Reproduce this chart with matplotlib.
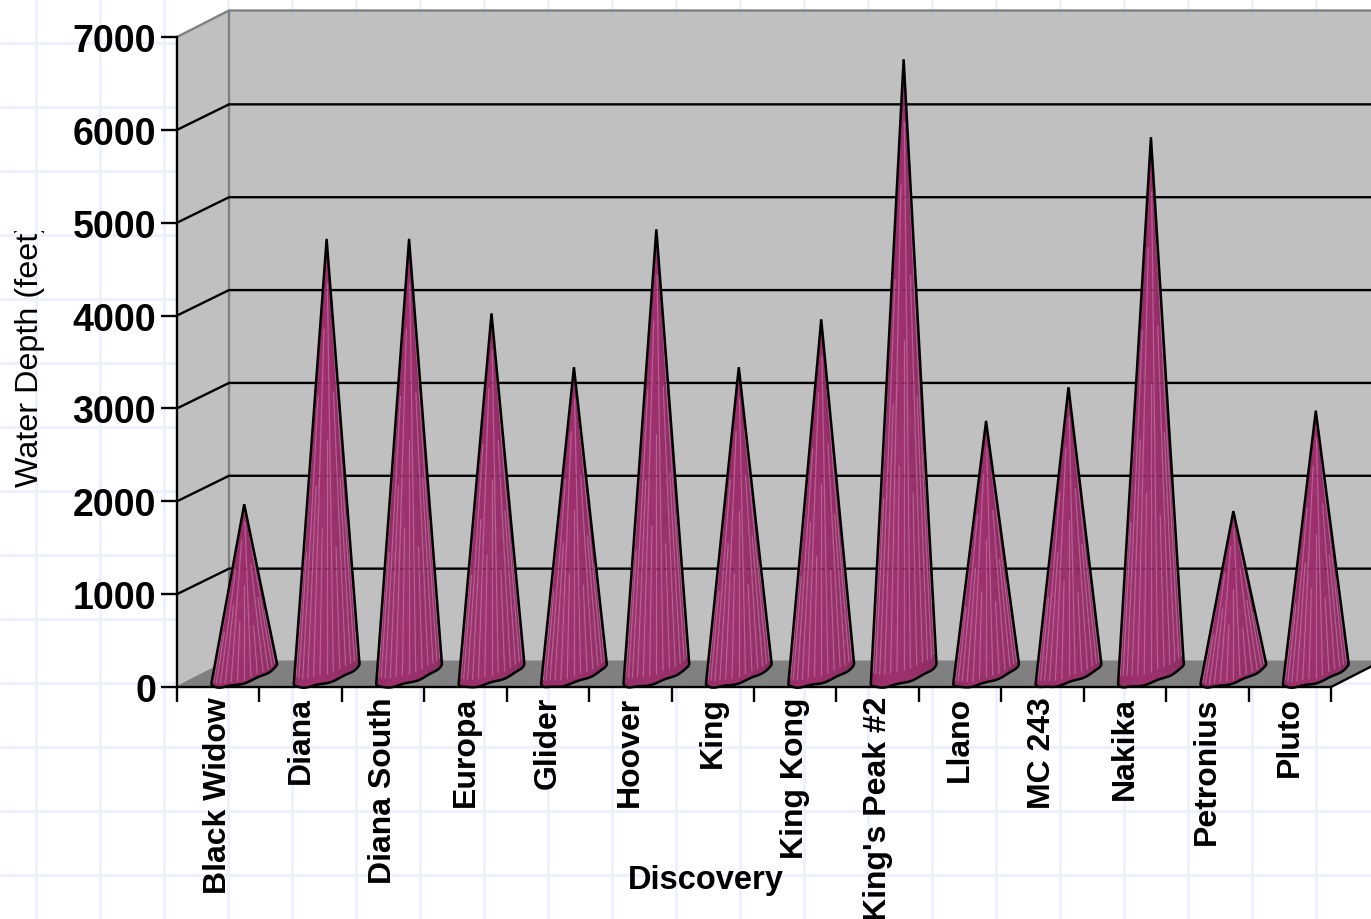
import numpy as np
import matplotlib
matplotlib.use('Agg')
import matplotlib.pyplot as plt
from matplotlib.collections import PolyCollection, LineCollection
from matplotlib.patches import Polygon
from matplotlib.transforms import Bbox

plt.rcParams['font.family'] = ['Liberation Sans', 'DejaVu Sans']

discoveries = ['Black Widow', 'Diana', 'Diana South', 'Europa', 'Glider', 'Hoover', 'King',
               'King Kong', "King's Peak #2", 'Llano', 'MC 243', 'Nakika', 'Petronius', 'Pluto']
water_depth = [1825, 4680, 4680, 3880, 3300, 4785, 3300, 3815, 6617, 2720, 3085, 5777, 1750, 2830]
depth_ticks = [0, 1000, 2000, 3000, 4000, 5000, 6000, 7000]

W, H = 1371, 920
LEFT, RIGHT, TOP, BOTTOM = 177, 1331, 38, 688

fig = plt.figure(figsize=(W / 100, H / 100), dpi=100, facecolor='white')

# page grid behind everything, in pixel units
bg = fig.add_axes([0, 0, 1, 1], zorder=-1)
bg.set_xlim(0, W)
bg.set_ylim(H, 0)
bg.axis('off')
bg.vlines(np.arange(36, W, 64), 0, H, color='#ecf0fe', lw=1.9)
bg.hlines(np.arange(44, H, 64), 0, W, color='#ecf0fe', lw=1.9)
ylab = bg.text(30, 487, 'Water Depth (feet)', rotation=90, ha='center', va='bottom', fontsize=23.3,
               color='black')
ylab.set_clip_on(True)
ylab.set_clip_box(Bbox([[0, 0], [W, H - 232]]))  # the closing bracket gets cut off

# front plane of the box: one unit per discovery, depth in feet
ax = fig.add_axes([LEFT / W, 1 - BOTTOM / H, (RIGHT - LEFT) / W, (BOTTOM - TOP) / H])
ax.patch.set_visible(False)
ax.set_xlim(0, len(discoveries))
ax.set_ylim(0, 7000)

px_x = len(discoveries) / (RIGHT - LEFT)
px_y = 7000 / (BOTTOM - TOP)
DX = 52 * px_x
DY = 26.5 * px_y
GRID_DY = 25.5 * px_y
n = len(discoveries)

# walls and floor
side = Polygon([(0, 0), (DX, DY), (DX, 7000 + DY), (0, 7000)], fc='#c0c0c0', ec='none', clip_on=False, zorder=0.5)
back = Polygon([(DX, DY), (n + DX, DY), (n + DX, 7000 + DY), (DX, 7000 + DY)], fc='#c0c0c0', ec='none',
               clip_on=False, zorder=0.5)
floor = Polygon([(0, 0), (n, 0), (n + DX, DY), (DX, DY)], fc='#808080', ec='none', clip_on=False, zorder=0.6)
for p in (side, back, floor):
    ax.add_patch(p)

ax.plot([0, DX, n + DX], [7000, 7000 + DY, 7000 + DY], color='#808080', lw=1.7, clip_on=False, zorder=0.8)
ax.plot([DX, DX], [DY, 7000 + DY], color='#808080', lw=1.7, clip_on=False, zorder=0.8)
ax.plot([0, DX], [0, DY], color='#808080', lw=1.5, clip_on=False, zorder=0.8)
ax.plot([n, n + DX], [0, DY], color='black', lw=1.7, clip_on=False, zorder=0.8)

# gridlines run along the side wall then across the back
grid_levels = depth_ticks[1:-1]
for v in grid_levels:
    ax.plot([0, DX, n + DX], [v, v + GRID_DY, v + GRID_DY], color='black', lw=1.7, clip_on=False, zorder=0.9,
            solid_joinstyle='miter')

# cones
BASE_P = 22 * px_x
BASE_Q = 24.4 * px_x
BASE_H = 13.5 * px_y
WAVE = 0.7 * px_y
t0 = np.arctan2(BASE_Q, BASE_P)
t = np.linspace(t0, t0 + np.pi, 61) * -1 + 2 * t0  # lower half of the base, right to left
s_pts = np.linspace(0, 1, len(t))
dark = np.array([0x84, 0x2a, 0x5e]) / 255
mid = np.array([0x9e, 0x2f, 0x6d]) / 255
streak_lengths = [0.55, 0.35, 0.8, 0.45, 0.65, 0.3, 0.9]

for i, d in enumerate(water_depth):
    cx = i + 0.5 + DX / 2
    cy = DY / 2
    apex = (cx, d + cy)
    bx = cx + BASE_P * np.cos(t) + BASE_Q * np.sin(t)
    by = cy + BASE_H * np.sin(t) + WAVE * np.sin(2 * np.pi * 3.5 * s_pts + i) * np.sin(np.pi * s_pts)
    outline = np.column_stack([bx, by])

    s = np.linspace(0, 1, len(bx) - 1)  # 0 at the right edge, 1 at the left
    light = np.clip(1 - np.abs(s - 0.6) / 0.6, 0, 1) ** 0.6
    colors = [dark + (mid - dark) * v for v in light]
    facets = [[apex, outline[k], outline[k + 1]] for k in range(len(bx) - 1)]
    ax.add_collection(PolyCollection(facets, facecolors=colors, edgecolors=colors, linewidths=0.4,
                                     clip_on=False, zorder=3))

    segs = []
    for k in range(2, len(bx) - 1, 4):
        f = streak_lengths[(k // 4) % len(streak_lengths)]
        x0, y0 = outline[k]
        segs.append([(x0 + (cx - x0) * 0.02, y0 + (d + cy - y0) * 0.02),
                     (x0 + (cx - x0) * f, y0 + (d + cy - y0) * f)])
    ax.add_collection(LineCollection(segs, colors='#e4b0cf', linewidths=0.9, alpha=0.38, clip_on=False, zorder=3.1))

    edge = Polygon(np.vstack([[apex], outline]), closed=True, fc='none', ec='black', lw=1.8,
                   joinstyle='miter', clip_on=False, zorder=3.2)
    ax.add_patch(edge)

    # gridlines show faintly through the cone
    for v in grid_levels:
        if v + GRID_DY < d + cy:
            ghost, = ax.plot([i, i + 1 + DX], [v + GRID_DY, v + GRID_DY], color='black', lw=1.2, ls=(0, (2, 3)),
                             alpha=0.2, zorder=3.15)
            ghost.set_clip_path(edge)

# axes furniture
for name in ('top', 'right'):
    ax.spines[name].set_visible(False)
for name in ('left', 'bottom'):
    ax.spines[name].set_linewidth(1.7)
    ax.spines[name].set_zorder(2.5)

ax.set_yticks(depth_ticks)
ax.set_yticklabels([str(v) for v in depth_ticks], fontsize=27, fontweight='bold')
ax.tick_params(axis='y', length=11.5, width=1.7, pad=3.6)

ax.set_xticks(np.arange(n + 1))
ax.set_xticklabels([])
ax.tick_params(axis='x', which='major', length=11, width=1.7)
ax.set_xticks(np.arange(n) + 0.5, minor=True)
ax.set_xticklabels(discoveries, minor=True, rotation=90, fontsize=23, fontweight='bold', ha='center', va='top')
ax.tick_params(axis='x', which='minor', length=0, pad=6.5)

ax.set_xlabel('Discovery', fontsize=23.5, fontweight='bold', va='center')
ax.xaxis.set_label_coords((706 - LEFT) / (RIGHT - LEFT), -(881 - BOTTOM) / (BOTTOM - TOP))

fig.savefig('out.png', dpi=100)
